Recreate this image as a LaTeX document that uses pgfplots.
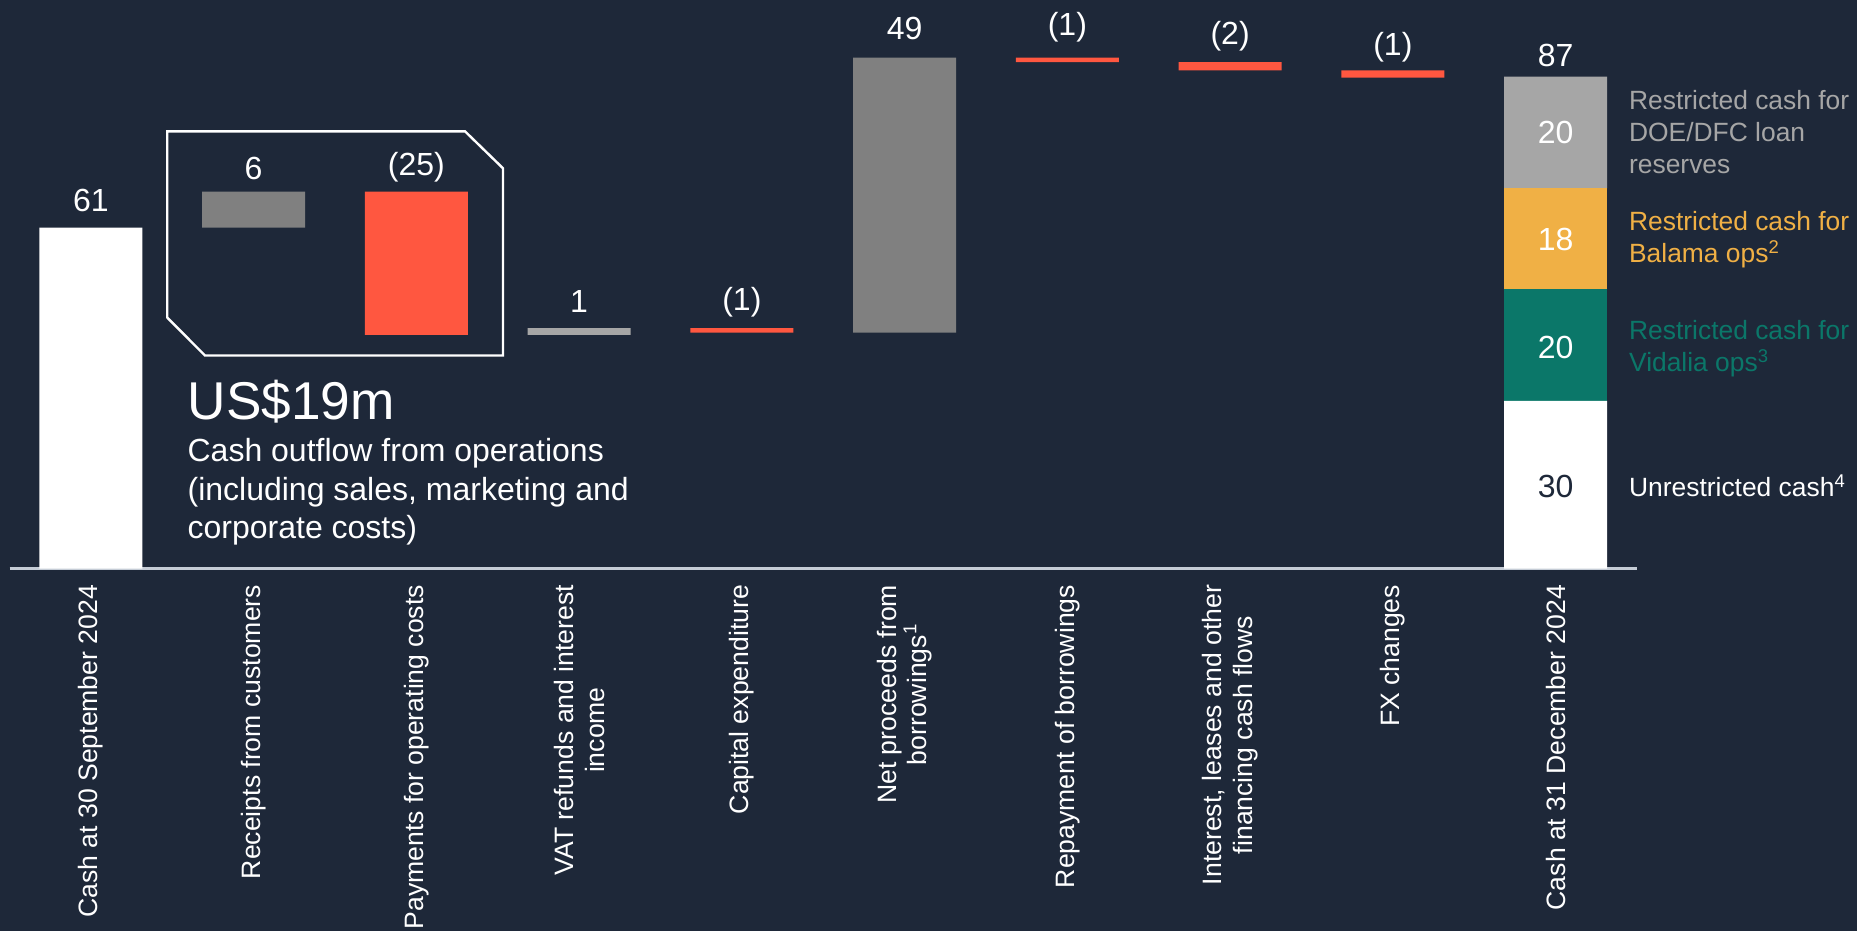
\documentclass[border=0pt]{standalone}
\usepackage{fontspec}
\setmainfont{Liberation Sans}
\usepackage{pgfplots}
\pgfplotsset{compat=1.18}

\definecolor{bg}{HTML}{1E2839}
\definecolor{cfred}{HTML}{FF5740}
\definecolor{cfgray}{HTML}{808080}
\definecolor{cflgray}{HTML}{A6A6A6}
\definecolor{cforange}{HTML}{F0B045}
\definecolor{cfteal}{HTML}{0B7769}
\definecolor{axisline}{HTML}{C5CCD6}

\tikzset{
    val/.style={text=white, font=\fontsize{16}{19}\selectfont, inner sep=0pt},
    leg/.style={anchor=west, align=left, inner sep=0pt, font=\fontsize{13.2}{16}\selectfont},
}

\begin{document}
\begin{tikzpicture}
\fill[bg] (0,0) rectangle (928.5pt,465.5pt);
\begin{axis}[
    at={(4.75pt,181.25pt)}, anchor=south west,
    scale only axis, width=813.75pt, height=284.25pt,
    xmin=-0.5, xmax=9.5, ymin=0, ymax=101.7,
    clip=false,
    axis x line=bottom, axis y line=none,
    x axis line style={-, draw=axisline, line width=1.2pt},
    ybar stacked, bar width=0.632,
    xtick={0,...,9}, major tick length=0pt,
    xticklabels={
        Cash at 30 September 2024,
        Receipts from customers,
        Payments for operating costs,
        {VAT refunds and interest\\income},
        Capital expenditure,
        {Net proceeds from\\borrowings\textsuperscript{1}},
        Repayment of borrowings,
        {Interest, leases and other\\financing cash flows},
        FX changes,
        Cash at 31 December 2024},
    xticklabel style={yshift=-4.7pt, rotate=90, anchor=east, align=center,
        font=\fontsize{13.3}{15.4}\selectfont, text=white},
]
% invisible base of the floating bars
\addplot[draw=none, fill=none] coordinates {(0,0) (1,61) (2,41.8) (3,41.8) (4,42.2) (5,42.2) (6,90.6) (7,89.1) (8,87.8) (9,0)};
% white: opening cash, unrestricted cash
\addplot[draw=none, fill=white] coordinates {(0,61) (1,0) (2,0) (3,0) (4,0) (5,0) (6,0) (7,0) (8,0) (9,30)};
\addplot[draw=none, fill=cfteal] coordinates {(0,0) (1,0) (2,0) (3,0) (4,0) (5,0) (6,0) (7,0) (8,0) (9,20)};
\addplot[draw=none, fill=cforange] coordinates {(0,0) (1,0) (2,0) (3,0) (4,0) (5,0) (6,0) (7,0) (8,0) (9,18)};
\addplot[draw=none, fill=cflgray] coordinates {(0,0) (1,0) (2,0) (3,1.2) (4,0) (5,0) (6,0) (7,0) (8,0) (9,20)};
\addplot[draw=none, fill=cfgray] coordinates {(0,0) (1,6.4) (2,0) (3,0) (4,0) (5,49.2) (6,0) (7,0) (8,0) (9,0)};
\addplot[draw=none, fill=cfred] coordinates {(0,0) (1,0) (2,25.6) (3,0) (4,0.8) (5,0) (6,0.8) (7,1.5) (8,1.3) (9,0)};

% value labels
\node[val] at (axis cs:0,65.9) {61};
\node[val] at (axis cs:1,71.6) {6};
\node[val] at (axis cs:2,71.8) {(25)};
\node[val] at (axis cs:3,47.7) {1};
\node[val] at (axis cs:4,47.7) {(1)};
\node[val] at (axis cs:5,96.6) {49};
\node[val] at (axis cs:6,96.8) {(1)};
\node[val] at (axis cs:7,95.3) {(2)};
\node[val] at (axis cs:8,93.2) {(1)};
\node[val] at (axis cs:9,91.7) {87};
% segment labels of the closing bar, drawn after the axis
\coordinate (sA) at (axis cs:9,78.0);
\coordinate (sB) at (axis cs:9,58.9);
\coordinate (sC) at (axis cs:9,39.6);
\coordinate (sD) at (axis cs:9,14.6);

% operations box
\draw[white, line width=1.2pt] (axis cs:0.469,78.2) -- (axis cs:2.299,78.2) -- (axis cs:2.532,71.6)
    -- (axis cs:2.532,38.1) -- (axis cs:0.701,38.1) -- (axis cs:0.469,44.9) -- cycle;
\node[anchor=base west, text=white, inner sep=0pt, font=\fontsize{26.6}{32}\selectfont] at (axis cs:0.592,26.7) {US\$19m};
\node[anchor=base west, align=left, text=white, inner sep=0pt, font=\fontsize{16}{19.2}\selectfont] at (axis cs:0.592,5.33)
    {Cash outflow from operations\\(including sales, marketing and\\corporate costs)};

% legend of the closing bar
\node[leg, text=cflgray] at (axis cs:9.449,78.0) {Restricted cash for\\DOE/DFC loan\\reserves};
\node[leg, text=cforange] at (axis cs:9.449,58.9) {Restricted cash for\\Balama ops\textsuperscript{2}};
\node[leg, text=cfteal] at (axis cs:9.449,39.4) {Restricted cash for\\Vidalia ops\textsuperscript{3}};
\node[leg, text=white] at (axis cs:9.449,14.8) {Unrestricted cash\textsuperscript{4}};
\end{axis}
\node[val] at (sA) {20};
\node[val] at (sB) {18};
\node[val] at (sC) {20};
\node[val, text=bg] at (sD) {30};
\pgfresetboundingbox
\useasboundingbox (0,0) rectangle (928.5pt,465.5pt);
\end{tikzpicture}
\end{document}
